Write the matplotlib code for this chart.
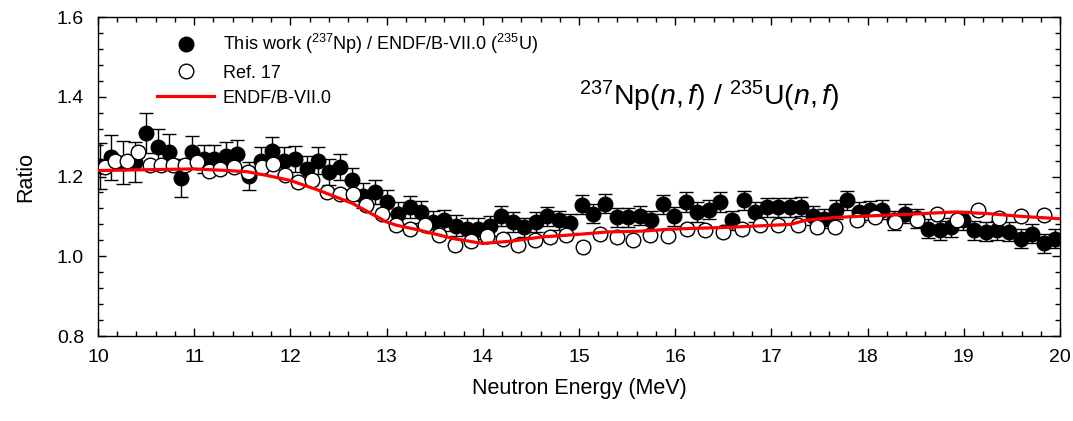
import numpy as np
import matplotlib
matplotlib.use("Agg")
import matplotlib.pyplot as plt
from matplotlib.lines import Line2D
from matplotlib.ticker import MultipleLocator

plt.rcParams['font.family'] = ['Liberation Sans', 'DejaVu Sans']
plt.rcParams['mathtext.fontset'] = 'custom'
plt.rcParams['mathtext.rm'] = 'Liberation Sans'
plt.rcParams['mathtext.it'] = 'Liberation Sans:italic'
plt.rcParams['mathtext.default'] = 'regular'

# This work (237Np) / ENDF/B-VII.0 (235U)
e_tw = [10.02, 10.14, 10.26, 10.38, 10.50, 10.62, 10.74, 10.86, 10.98, 11.10,
        11.21, 11.33, 11.45, 11.57, 11.69, 11.81, 11.93, 12.05, 12.17, 12.29,
        12.40, 12.52, 12.64, 12.76, 12.88, 13.00, 13.12, 13.24, 13.36, 13.48,
        13.60, 13.72, 13.84, 13.95, 14.07, 14.19, 14.31, 14.43, 14.55, 14.67,
        14.79, 14.91, 15.03, 15.15, 15.27, 15.39, 15.51, 15.63, 15.75, 15.87,
        15.99, 16.11, 16.23, 16.35, 16.47, 16.59, 16.71, 16.83, 16.95, 17.07,
        17.19, 17.31, 17.43, 17.55, 17.67, 17.79, 17.91, 18.03, 18.15, 18.27,
        18.39, 18.51, 18.63, 18.75, 18.87, 18.99, 19.11, 19.23, 19.35, 19.47,
        19.59, 19.71, 19.83, 19.95]
r_tw = [1.227, 1.248, 1.235, 1.236, 1.310, 1.273, 1.261, 1.197, 1.261, 1.244,
        1.244, 1.252, 1.257, 1.202, 1.240, 1.265, 1.240, 1.244, 1.219, 1.240,
        1.211, 1.223, 1.190, 1.152, 1.161, 1.136, 1.107, 1.123, 1.111, 1.086,
        1.090, 1.077, 1.069, 1.069, 1.077, 1.100, 1.086, 1.073, 1.086, 1.100,
        1.090, 1.083, 1.129, 1.107, 1.132, 1.098, 1.098, 1.102, 1.090, 1.130,
        1.100, 1.136, 1.111, 1.117, 1.136, 1.090, 1.140, 1.111, 1.123, 1.123,
        1.123, 1.124, 1.102, 1.094, 1.117, 1.140, 1.111, 1.115, 1.117, 1.090,
        1.107, 1.095, 1.069, 1.065, 1.073, 1.090, 1.065, 1.061, 1.065, 1.061,
        1.044, 1.057, 1.032, 1.044]
err_tw = [0.058, 0.057, 0.055, 0.050, 0.050, 0.045, 0.045, 0.048, 0.040, 0.036,
          0.035, 0.035, 0.035, 0.035, 0.034, 0.034, 0.034, 0.033, 0.033, 0.033,
          0.033, 0.033, 0.032, 0.032, 0.031, 0.030, 0.029, 0.028, 0.028, 0.028,
          0.027, 0.027, 0.026, 0.026, 0.025, 0.025, 0.025, 0.024, 0.024, 0.024,
          0.024, 0.024, 0.024, 0.024, 0.024, 0.024, 0.024, 0.024, 0.024, 0.024,
          0.024, 0.024, 0.024, 0.024, 0.024, 0.024, 0.024, 0.024, 0.024, 0.024,
          0.024, 0.024, 0.024, 0.024, 0.024, 0.024, 0.024, 0.024, 0.024, 0.024,
          0.024, 0.024, 0.024, 0.024, 0.024, 0.024, 0.024, 0.024, 0.024, 0.024,
          0.024, 0.024, 0.024, 0.024]

# Ref. 17
e_ref = [10.07, 10.18, 10.30, 10.42, 10.54, 10.66, 10.78, 10.90, 11.03, 11.15,
         11.27, 11.41, 11.56, 11.70, 11.82, 11.94, 12.08, 12.22, 12.38, 12.52,
         12.65, 12.79, 12.95, 13.10, 13.24, 13.40, 13.55, 13.71, 13.88, 14.04,
         14.21, 14.37, 14.54, 14.70, 14.87, 15.04, 15.22, 15.39, 15.56, 15.74,
         15.93, 16.12, 16.31, 16.50, 16.69, 16.88, 17.07, 17.28, 17.47, 17.66,
         17.89, 18.08, 18.28, 18.51, 18.72, 18.93, 19.15, 19.37, 19.59, 19.83]
r_ref = [1.223, 1.240, 1.240, 1.261, 1.228, 1.228, 1.230, 1.228, 1.236, 1.215,
         1.219, 1.223, 1.212, 1.223, 1.232, 1.205, 1.186, 1.190, 1.161, 1.157,
         1.157, 1.128, 1.107, 1.078, 1.069, 1.078, 1.053, 1.028, 1.038, 1.050,
         1.044, 1.028, 1.040, 1.048, 1.053, 1.023, 1.055, 1.048, 1.040, 1.053,
         1.052, 1.069, 1.067, 1.061, 1.069, 1.078, 1.078, 1.078, 1.073, 1.073,
         1.090, 1.098, 1.086, 1.090, 1.105, 1.090, 1.115, 1.097, 1.100, 1.103]
err_ref = [0.012] * len(e_ref)

# ENDF/B-VII.0
e_endf = [10.0, 10.5, 11.0, 11.35, 11.55, 11.75, 12.0, 12.3, 12.65, 13.0,
          13.1, 13.35, 13.7, 14.0, 14.3, 14.6, 15.0, 15.3, 15.65, 15.95,
          16.6, 17.2, 17.35, 17.65, 17.9, 18.4, 18.9, 19.25, 19.6, 20.0]
r_endf = [1.215, 1.217, 1.219, 1.215, 1.212, 1.203, 1.190, 1.165, 1.132, 1.086,
          1.078, 1.065, 1.044, 1.032, 1.038, 1.048, 1.055, 1.061, 1.063, 1.068,
          1.073, 1.080, 1.090, 1.097, 1.100, 1.105, 1.111, 1.107, 1.100, 1.094]

fig = plt.figure(figsize=(10.73, 4.21), dpi=100)
ax = fig.add_axes([0.0913, 0.2019, 0.8966, 0.7577])

ax.errorbar(e_tw, r_tw, yerr=err_tw, fmt='o', ms=10.5, mfc='black', mec='black',
            ecolor='black', elinewidth=1.0, capsize=5, capthick=1.0, zorder=2)
ax.errorbar(e_ref, r_ref, yerr=err_ref, fmt='o', ms=10.5, mfc='white', mec='black',
            mew=1.0, ecolor='black', elinewidth=1.0, capsize=4, capthick=1.0, zorder=3)
ax.plot(e_endf, r_endf, color='red', lw=2.3, zorder=4)

ax.set_xlim(10, 20)
ax.set_ylim(0.8, 1.6)
ax.xaxis.set_major_locator(MultipleLocator(1))
ax.xaxis.set_minor_locator(MultipleLocator(0.2))
ax.yaxis.set_major_locator(MultipleLocator(0.2))
ax.yaxis.set_minor_locator(MultipleLocator(0.04))
ax.yaxis.set_major_formatter(matplotlib.ticker.FormatStrFormatter('%.1f'))
ax.tick_params(which='both', direction='in', top=True, right=True, labelsize=14)
ax.tick_params(which='major', length=6, width=1)
ax.tick_params(which='minor', length=3.5, width=1)
ax.tick_params(axis='x', which='major', pad=9)
ax.tick_params(axis='y', which='major', pad=10)
for s in ax.spines.values():
    s.set_linewidth(1.0)

ax.set_xlabel('Neutron Energy (MeV)', fontsize=15.5, labelpad=9)
ax.set_ylabel('Ratio', fontsize=15.5, labelpad=15)

ax.text(15.0, 1.4, r'$^{237}$Np($\mathit{n,f}$) / $^{235}$U($\mathit{n,f}$)',
        fontsize=20.5, va='center', ha='left')

handles = [
    Line2D([], [], ls='none', marker='o', ms=10.5, mfc='black', mec='black'),
    Line2D([], [], ls='none', marker='o', ms=10.5, mfc='white', mec='black'),
    Line2D([], [], color='red', lw=2.3),
]
labels = [r'This work ($^{237}$Np) / ENDF/B-VII.0 ($^{235}$U)', 'Ref. 17', 'ENDF/B-VII.0']
ax.legend(handles, labels, loc='upper left', bbox_to_anchor=(0.061, 0.952),
          frameon=False, fontsize=13, handlelength=3.2, handletextpad=0.45,
          labelspacing=0.45, borderpad=0, borderaxespad=0)

fig.savefig('out.png', dpi=100)
